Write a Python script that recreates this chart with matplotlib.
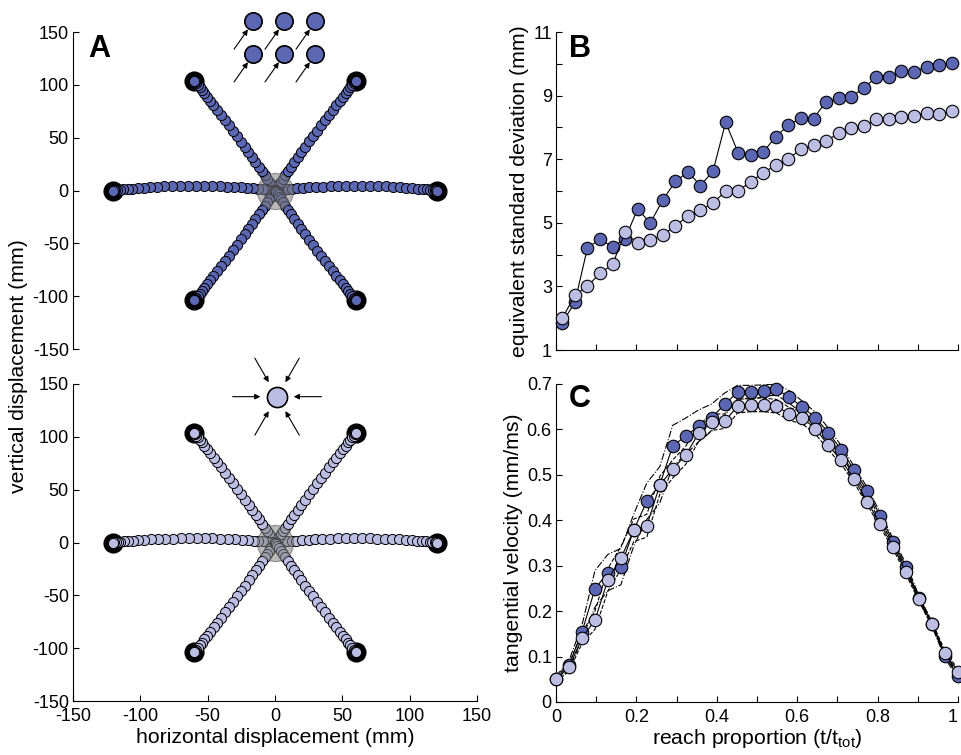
import numpy as np
import matplotlib
matplotlib.use('Agg')
import matplotlib.pyplot as plt

plt.rcParams['font.family'] = ['Liberation Sans', 'DejaVu Sans']
plt.rcParams['axes.unicode_minus'] = False
plt.rcParams['font.size'] = 13

# couleurs des deux conditions
DARK = '#5b67b3'
LIGHT = '#bbbde3'

# --- donnees panneau B (ecart-type equivalent, mm) ---
prop_b = (np.arange(32) + 0.5) / 32
sd_dark = [1.86, 2.50, 4.21, 4.49, 4.24, 4.50, 5.44, 4.99, 5.72, 6.30, 6.60, 6.17,
           6.63, 8.16, 7.20, 7.12, 7.23, 7.71, 8.07, 8.30, 8.28, 8.81, 8.91, 8.95,
           9.25, 9.57, 9.58, 9.77, 9.75, 9.91, 9.96, 10.03]
sd_light = [2.00, 2.72, 3.01, 3.41, 3.69, 4.71, 4.35, 4.45, 4.62, 4.91, 5.21, 5.39,
            5.63, 5.99, 6.01, 6.29, 6.58, 6.81, 7.02, 7.31, 7.44, 7.57, 7.82, 7.97,
            8.03, 8.26, 8.28, 8.32, 8.37, 8.46, 8.41, 8.52]

# --- donnees panneau C (vitesse tangentielle, mm/ms) ---
prop_c = np.linspace(0, 1, 32)
vel_dark = [0.051, 0.081, 0.154, 0.249, 0.285, 0.298, 0.379, 0.442, 0.478, 0.564,
            0.585, 0.608, 0.626, 0.655, 0.682, 0.682, 0.685, 0.688, 0.671, 0.649,
            0.626, 0.593, 0.555, 0.510, 0.465, 0.410, 0.353, 0.298, 0.228, 0.171,
            0.101, 0.057]
vel_light = [0.050, 0.076, 0.141, 0.180, 0.269, 0.317, 0.378, 0.388, 0.477, 0.513,
             0.543, 0.592, 0.616, 0.618, 0.651, 0.654, 0.654, 0.651, 0.634, 0.625,
             0.602, 0.565, 0.532, 0.490, 0.441, 0.392, 0.342, 0.286, 0.226, 0.171,
             0.107, 0.067]
vel_dark_sd = [0.006, 0.010, 0.015, 0.040, 0.040, 0.040, 0.035, 0.040, 0.040, 0.045,
               0.040, 0.035, 0.030, 0.025, 0.015, 0.015, 0.013, 0.012, 0.014, 0.013,
               0.012, 0.010, 0.009, 0.008, 0.007, 0.007, 0.006, 0.006, 0.005, 0.005,
               0.005, 0.005]
vel_light_sd = [0.006, 0.008, 0.012, 0.020, 0.025, 0.025, 0.025, 0.025, 0.020, 0.020,
                0.020, 0.018, 0.018, 0.016, 0.015, 0.015, 0.015, 0.015, 0.014, 0.013,
                0.012, 0.010, 0.009, 0.008, 0.007, 0.007, 0.006, 0.006, 0.005, 0.005,
                0.005, 0.005]

# --- panneau A : cibles (mm) et courbure laterale max (mm) ---
target_angles = [0, 60, 120, 180, 240, 300]
target_dist = 120
bow_dark = [4.5, 1.5, -1.0, -4.5, 1.0, -1.5]
bow_light = [4.0, 1.0, -1.0, -4.0, 1.0, -1.0]


def trajectories(vel, bows):
    """Positions le long du trajet a partir du profil de vitesse."""
    v = np.asarray(vel)
    s = np.cumsum(v) - v[0]
    s = s / s[-1]
    out = []
    for ang, bow in zip(target_angles, bows):
        th = np.deg2rad(ang)
        d = np.array([np.cos(th), np.sin(th)])
        n = np.array([-np.sin(th), np.cos(th)])
        lat = bow * 4 * s * (1 - s)
        pts = np.outer(s * target_dist, d) + np.outer(lat, n)
        out.append((pts, d * target_dist))
    return out


def style_axes(ax, bottom=True):
    ax.spines['top'].set_visible(False)
    ax.spines['right'].set_visible(False)
    for sp in ('left', 'bottom'):
        ax.spines[sp].set_linewidth(0.8)
    ax.tick_params(direction='in', length=4, width=0.8, labelsize=13, pad=3)
    if not bottom:
        ax.spines['bottom'].set_visible(False)
        ax.tick_params(axis='x', bottom=False, labelbottom=False)


def draw_reach(ax, vel, bows, color):
    for pts, tgt in trajectories(vel, bows):
        ax.plot(tgt[0], tgt[1], 'o', ms=13.5, color='black', zorder=2, clip_on=False)
        ax.plot(pts[:, 0], pts[:, 1], 'o', ms=7.3, mfc=color, mec='black',
                mew=0.7, ls='none', zorder=3)
    ax.plot(0, 0, 'o', ms=26, mfc='#808080', mec='#505050', mew=0.8, alpha=0.55, zorder=4)
    ax.set_xlim(-150, 150)
    ax.set_ylim(-150, 150)
    ax.set_yticks(np.arange(-150, 151, 50))
    ax.set_xticks(np.arange(-150, 151, 50))


def arrow(ax, xy, dx, dy, shrink):
    ax.annotate('', xy=xy, xytext=(dx, dy), xycoords='data', textcoords='offset points',
                arrowprops=dict(arrowstyle='-|>', lw=0.8, color='black',
                                mutation_scale=8, shrinkA=0, shrinkB=shrink),
                annotation_clip=False)


fig = plt.figure(figsize=(9.61, 7.55), dpi=100)

axA1 = fig.add_axes([0.0760, 0.5377, 0.4204, 0.4199])
axA2 = fig.add_axes([0.0760, 0.0715, 0.4204, 0.4199])
axB = fig.add_axes([0.5786, 0.5364, 0.4183, 0.4212])
axC = fig.add_axes([0.5786, 0.0702, 0.4183, 0.4212])

# Panneau A (haut) : condition sombre
draw_reach(axA1, vel_dark, bow_dark, DARK)
style_axes(axA1, bottom=False)
for x in (-16, 7, 30):
    for y in (160, 129):
        axA1.plot(x, y, 'o', ms=12.5, mfc=DARK, mec='black', mew=1.2, clip_on=False, zorder=5)
        arrow(axA1, (x, y), -14, -20, 7)

# Panneau A (bas) : condition claire
draw_reach(axA2, vel_light, bow_light, LIGHT)
style_axes(axA2)
axA2.tick_params(axis='x', pad=5)
axA2.plot(1.5, 138, 'o', ms=14.5, mfc=LIGHT, mec='black', mew=1.2, clip_on=False, zorder=5)
for ang in target_angles:
    th = np.deg2rad(ang)
    arrow(axA2, (1.5, 138), 32 * np.cos(th), 32 * np.sin(th), 12)
axA2.set_xlabel('horizontal displacement (mm)', fontsize=15.3, labelpad=2)
fig.text(0.019, 0.515, 'vertical displacement (mm)', rotation=90, fontsize=15.3,
         ha='center', va='center')

# Panneau B
axB.plot(prop_b, sd_dark, '-o', color='black', lw=0.8, ms=9, mfc=DARK, mec='black',
         mew=0.8, clip_on=False, zorder=3)
axB.plot(prop_b, sd_light, '-o', color='black', lw=0.8, ms=9, mfc=LIGHT, mec='black',
         mew=0.8, clip_on=False, zorder=4)
axB.set_xlim(0, 1)
axB.set_ylim(1, 11)
axB.set_yticks(range(1, 12))
axB.set_yticklabels([str(v) if v % 2 else '' for v in range(1, 12)])
axB.set_xticks(np.arange(0, 1.01, 0.1))
axB.set_xticklabels([])
style_axes(axB)
axB.set_ylabel('equivalent standard deviation (mm)', fontsize=15.3, labelpad=3)

# Panneau C
vd = np.array(vel_dark)
vl = np.array(vel_light)
sdd = np.array(vel_dark_sd)
sdl = np.array(vel_light_sd)
for sgn in (1, -1):
    axC.plot(prop_c, vd + sgn * sdd, '-.', color='black', lw=0.8, zorder=2)
    axC.plot(prop_c, vl + sgn * sdl, '--', color='black', lw=0.8, zorder=2)
axC.plot(prop_c, vel_dark, '-o', color='black', lw=0.8, ms=9, mfc=DARK, mec='black',
         mew=0.8, clip_on=False, zorder=3)
axC.plot(prop_c, vel_light, '-o', color='black', lw=0.8, ms=9, mfc=LIGHT, mec='black',
         mew=0.8, clip_on=False, zorder=4)
axC.set_xlim(0, 1)
axC.set_ylim(0, 0.7)
axC.set_xticks(np.arange(0, 1.01, 0.1))
axC.set_xticklabels(['0', '', '0.2', '', '0.4', '', '0.6', '', '0.8', '', '1'])
axC.get_xticklabels()[-1].set_horizontalalignment('right')
axC.set_yticks(np.arange(0, 0.71, 0.1))
axC.set_yticklabels(['0', '0.1', '0.2', '0.3', '0.4', '0.5', '0.6', '0.7'])
style_axes(axC)
axC.tick_params(axis='x', pad=5)
axC.set_ylabel('tangential velocity (mm/ms)', fontsize=15.3, labelpad=3)
axC.set_xlabel('reach proportion (t/t$_\\mathregular{tot}$)', fontsize=15.3, labelpad=1)

# lettres des panneaux
for lab, x, y in (('A', 0.092, 0.955), ('B', 0.592, 0.955), ('C', 0.592, 0.491)):
    fig.text(x, y, lab, fontsize=22, fontweight='bold', ha='left', va='top')

fig.savefig('out.png', dpi=100)
